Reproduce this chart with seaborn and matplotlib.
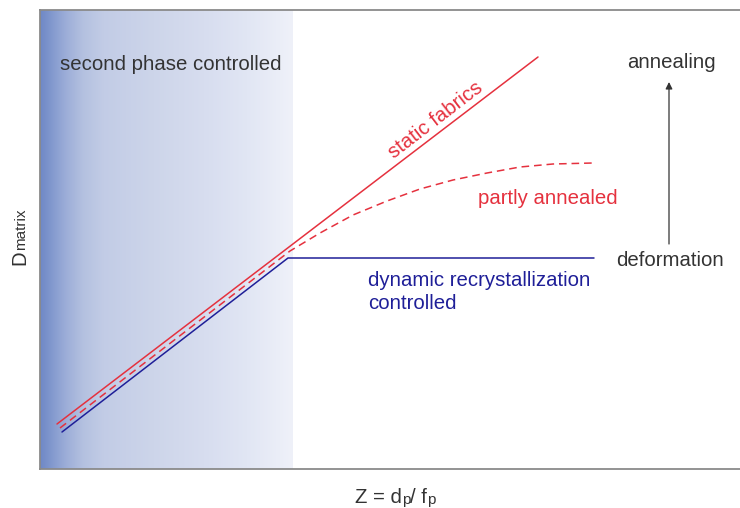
import numpy as np
import pandas as pd
import matplotlib
matplotlib.use("Agg")
import matplotlib.pyplot as plt
from matplotlib.colors import LinearSegmentedColormap
import seaborn as sns

# Schematic grain-size curves (arbitrary units: Z on x, D_matrix on y)
static_z = [17, 498]
static_d = [45, 412]

partly_z = [20, 250, 280, 313, 347, 380, 413, 447, 480, 513, 553]
partly_d = [41, 218, 236, 254, 268, 280, 289, 296, 302, 305, 306]

dynamic_z = [22, 248, 554]
dynamic_d = [37, 211, 211]

# Extent of the second-phase controlled field
pinning_limit = 253

RED = "#e5313e"
NAVY = "#1f1f98"
INK = "#333333"

sns.set_theme(style="white")
plt.rcParams["font.family"] = ["Liberation Sans", "DejaVu Sans"]
FS = 14.7

fig = plt.figure(figsize=(7.4, 5.08), dpi=100)
ax = fig.add_axes([40 / 740, 39 / 508, 700 / 740, 459 / 508])

# Shaded field fading from blue to white
field_cmap = LinearSegmentedColormap.from_list(
    "field",
    [(0.00, "#6f88c6"), (0.04, "#8097cd"), (0.10, "#9cadd8"),
     (0.17, "#b4c1e0"), (0.25, "#c2cce6"), (0.45, "#cdd5ea"),
     (0.65, "#d7ddef"), (0.82, "#e1e6f4"), (1.00, "#eff1f9")])
ramp = np.linspace(0, 1, 256)[None, :]
ax.imshow(ramp, extent=(0, pinning_limit, 0, 459), aspect="auto",
          cmap=field_cmap, zorder=0, interpolation="bilinear")

static_df = pd.DataFrame({"Z": static_z, "D": static_d})
partly_df = pd.DataFrame({"Z": partly_z, "D": partly_d})
dynamic_df = pd.DataFrame({"Z": dynamic_z, "D": dynamic_d})

sns.lineplot(data=static_df, x="Z", y="D", ax=ax, color=RED, lw=1.1)
sns.lineplot(data=partly_df, x="Z", y="D", ax=ax, color=RED, lw=1.1,
             linestyle=(0, (5, 3.2)))
sns.lineplot(data=dynamic_df, x="Z", y="D", ax=ax, color=NAVY, lw=1.1)

ax.set_xlim(0, 700)
ax.set_ylim(0, 459)
ax.set_xticks([])
ax.set_yticks([])
ax.set_xlabel("")
ax.set_ylabel("")
for side in ("left", "top", "bottom"):
    ax.spines[side].set_color("#8a8a8a")
    ax.spines[side].set_linewidth(1.3)
ax.spines["right"].set_visible(False)

# Field and curve labels
ax.text(131, 404, "second phase controlled", fontsize=FS, color=INK,
        ha="center", va="center")
ax.text(396, 349, "static fabrics", fontsize=FS, color=RED,
        ha="center", va="center", rotation=37.5, rotation_mode="anchor")
ax.text(438, 271, "partly annealed", fontsize=FS, color=RED,
        ha="left", va="center")
ax.text(328, 177, "dynamic recrystallization\ncontrolled", fontsize=FS,
        color=NAVY, ha="left", va="center", linespacing=1.22)
ax.text(631, 406, "annealing", fontsize=FS, color=INK, ha="center", va="center")
ax.text(630, 209, "deformation", fontsize=FS, color=INK, ha="center", va="center")
ax.annotate("", xy=(629, 387), xytext=(629, 225),
            arrowprops=dict(arrowstyle="-|>", color=INK, lw=0.9,
                            mutation_scale=10, shrinkA=0, shrinkB=0))

# Axis titles with reduced-size index letters
fig.text(25 / 740, 1 - 265 / 508, "D", fontsize=FS, color=INK, rotation=90,
         rotation_mode="anchor", ha="left", va="baseline")
fig.text(25 / 740, 1 - 250 / 508, "matrix", fontsize=11, color=INK, rotation=90,
         rotation_mode="anchor", ha="left", va="baseline")

t1 = fig.text(355 / 740, 1 - 503 / 508, "Z = d", fontsize=FS, color=INK,
              ha="left", va="baseline")
t2 = ax.annotate("p", xy=(1, 0), xycoords=t1, fontsize=11, color=INK,
                 ha="left", va="bottom", annotation_clip=False)
t3 = ax.annotate("/ f", xy=(1, 0), xycoords=t2, fontsize=FS, color=INK,
                 ha="left", va="bottom", annotation_clip=False)
ax.annotate("p", xy=(1, 0), xycoords=t3, fontsize=11, color=INK,
            ha="left", va="bottom", annotation_clip=False)

fig.savefig("out.png", dpi=100)
